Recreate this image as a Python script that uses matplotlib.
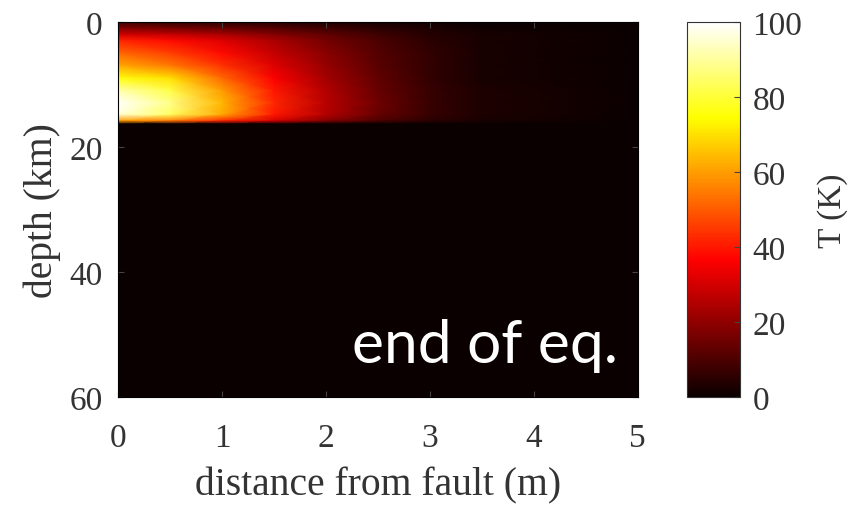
import matplotlib
matplotlib.use("Agg")
import matplotlib.pyplot as plt
import numpy as np

# temperature table (rows = depth, columns = distance)
distance_m = [0, 0.5, 1.0, 1.5, 2.0, 2.5, 3.0, 3.5, 5.0]
depth_km = [0, 1, 2, 3, 5, 7, 9, 11, 13, 14.8, 15.8, 16.3, 60]
temp_K = [
    [8, 6, 5, 4, 3, 2, 1, 0, 0],
    [18, 16, 14, 11, 8, 5, 3, 1, 0],
    [30, 28, 24, 18, 13, 8, 4, 2, 0],
    [42, 38, 32, 24, 16, 10, 5, 2, 0],
    [52, 46, 38, 28, 19, 11, 6, 2, 0],
    [62, 55, 44, 32, 21, 12, 6, 2, 0],
    [76, 70, 52, 36, 23, 13, 6, 2, 0],
    [92, 82, 60, 40, 25, 14, 7, 3, 0],
    [100, 88, 64, 42, 26, 15, 7, 3, 0],
    [96, 84, 62, 40, 25, 14, 7, 3, 0],
    [60, 55, 42, 30, 18, 10, 5, 2, 0],
    [0, 0, 0, 0, 0, 0, 0, 0, 0],
    [0, 0, 0, 0, 0, 0, 0, 0, 0],
]
x_ticks = [0, 1, 2, 3, 4, 5]
y_ticks = [0, 20, 40, 60]
cbar_ticks = [0, 20, 40, 60, 80, 100]

plt.rcParams['font.family'] = ['Liberation Serif', 'DejaVu Serif']
plt.rcParams['font.size'] = 24
txt = '#333333'

fig = plt.figure(figsize=(8.56, 5.06), dpi=100)
ax = fig.add_axes([0.138, 0.2134, 0.607, 0.741])
cax = fig.add_axes([0.8026, 0.2134, 0.062, 0.741])

X, Y = np.meshgrid(distance_m, depth_km)
mesh = ax.pcolormesh(X, Y, np.array(temp_K), cmap='hot', vmin=0, vmax=100,
                     shading='gouraud')
ax.set_xlim(0, 5)
ax.set_ylim(60, 0)
ax.set_xticks(x_ticks)
ax.set_yticks(y_ticks)
ax.tick_params(direction='in', top=True, right=True, length=4,
               color='#444444', labelcolor=txt)
ax.tick_params(axis='x', pad=18)
ax.tick_params(axis='y', pad=11)
ax.set_xlabel("distance from fault (m)", color=txt, fontsize=28.5)
ax.set_ylabel("depth (km)", color=txt, fontsize=28.5)
ax.xaxis.set_label_coords(0.5, -0.185)
ax.yaxis.set_label_coords(-0.11, 0.5)

ax.text(2.25, 54.4, "end of eq.", color='white', fontsize=43.5,
        family=['Lato', 'DejaVu Sans'], ha='left', va='baseline')

cb = fig.colorbar(mesh, cax=cax, ticks=cbar_ticks)
cb.ax.tick_params(direction='in', length=4, color='#444444', pad=9,
                  labelcolor=txt)
cb.outline.set_edgecolor('#333333')
cb.set_label("T (K)", color=txt, fontsize=24)
cb.ax.yaxis.set_label_coords(2.45, 0.5)

fig.savefig("out.png", dpi=100)
